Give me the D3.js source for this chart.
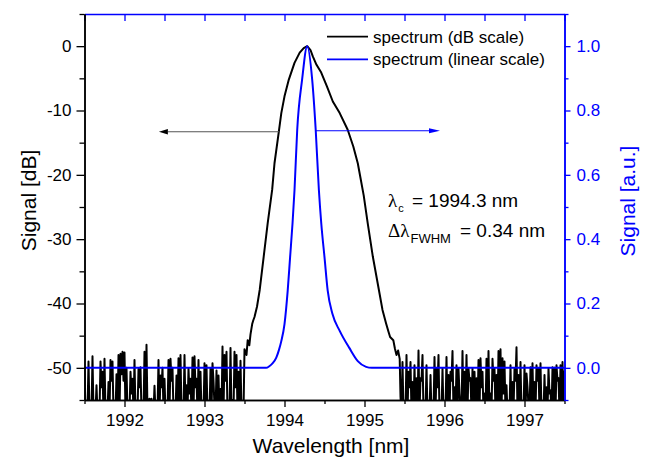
<!DOCTYPE html>
<html>
<head>
<meta charset="utf-8">
<script src="https://cdn.jsdelivr.net/npm/d3@7"></script>
<style>
  body { margin: 0; background: #fff; }
  svg { display: block; font-family: "Liberation Sans", Arial, sans-serif; }
  .tick text { font-size: 17px; }
</style>
</head>
<body>
<svg id="chart" width="646" height="457"></svg>
<script>
// noise floor samples (dB), left side starts at 1991.5 nm, right side at 1995.45 nm, 0.025 nm apart
var noiseStep = 0.025;
var noiseLeftStart = 1991.5;
var noiseLeftPeaks = [
  -50, -56, -49, -56, -48.2, -56, -52.7, -56, -49, -50.6,
  -48.6, -56, -52.2, -48.8, -49, -56, -51, -48, -47.8, -47.5,
  -47.6, -50, -56, -50.6, -51.7, -48.8, -56, -50.2, -49.9, -56,
  -47.5, -46.4, -55, -55.2, -56, -52.8, -56, -48.8, -51.2, -50,
  -51.7, -56, -48.8, -48.6, -50, -56, -51.2, -48.5, -48, -56,
  -48, -52.7, -50.1, -51.7, -48.4, -48.2, -51.7, -48.8, -50.6, -56,
  -49.3, -49.6, -56, -50.1, -49.3, -56, -50.4, -51.2, -53.3, -46.7,
  -48, -47.5, -56, -46.9, -55, -47.5, -48, -50.6, -48.9, -56,
  -47.1
];
var noiseLeftValleys = [
  -57, -57, -57, -57, -57, -57, -57, -57, -53, -57,
  -57, -57, -57, -52, -57, -57, -57, -57, -51, -52,
  -57, -57, -57, -54, -57, -57, -57, -53, -57, -57,
  -57, -57, -54.8, -54.8, -57, -57, -57, -57, -53, -57,
  -57, -57, -57, -52, -57, -57, -57, -57, -57, -57,
  -57, -57, -54, -57, -57, -53, -57, -57, -57, -57,
  -57, -57, -57, -57, -52, -57, -57, -57, -57, -57,
  -52, -57, -57, -57, -57, -53, -57, -57, -57, -57
];
var noiseRightStart = 1995.45;
var noiseRightPeaks = [
  -54.5, -49.1, -56, -48, -50.6, -49.1, -52.2, -49.6, -51.6, -47.3,
  -51.6, -48, -56, -49.6, -56, -51.1, -56, -48.3, -50.1, -48,
  -56, -50.1, -56, -48.3, -51.1, -50.6, -47.4, -53, -49.6, -50.1,
  -56, -47.4, -50.6, -48, -50.1, -51.6, -50.1, -50.6, -51.6, -48.8,
  -48.5, -50.6, -54, -48.6, -47.4, -54, -48.6, -50.1, -51.1, -47.4,
  -47.1, -48.5, -49, -52.7, -56, -49.6, -52.2, -50.1, -46.8, -51.1,
  -49.1, -56, -49.6, -50.9, -56, -49.9, -49.3, -52.2, -49.6, -50.1,
  -49.3, -56, -51.1, -53, -50.1, -53.5, -49.9, -50, -49.6, -51.6,
  -49.6, -49.1, -50.4
];
var noiseRightValleys = [
  -57, -57, -57, -57, -53, -57, -57, -57, -57, -57,
  -52, -57, -57, -57, -57, -57, -57, -57, -53, -57,
  -57, -57, -57, -57, -57, -52, -57, -57, -57, -54,
  -57, -57, -57, -57, -52, -57, -57, -57, -57, -57,
  -53, -57, -57, -57, -57, -57, -52, -57, -57, -57,
  -57, -54, -57, -57, -57, -57, -57, -52, -57, -57,
  -57, -57, -57, -53, -57, -57, -57, -57, -52, -57,
  -57, -57, -57, -57, -54, -57, -57, -57, -52, -57,
  -57, -57
];

// emission peak, dB scale
var peakWl = [1993.525, 1993.54, 1993.56, 1993.575, 1993.596, 1993.61, 1993.625, 1993.656, 1993.69, 1993.74,
              1993.79, 1993.846, 1993.875, 1993.93, 1993.96, 1994.0, 1994.054, 1994.125, 1994.19, 1994.24,
              1994.284, 1994.325, 1994.354, 1994.4, 1994.459, 1994.529, 1994.604, 1994.69, 1994.79, 1994.86,
              1994.916, 1994.95, 1994.99, 1995.04, 1995.104, 1995.18, 1995.225, 1995.27, 1995.3, 1995.32,
              1995.36, 1995.38, 1995.40, 1995.42, 1995.44];
var peakDb = [-48, -45.7, -46.5, -44.8, -43.2, -42.6, -42.1, -40.5, -37.9, -32.7,
              -27.5, -22.3, -18.2, -13.2, -10.4, -7.8, -5.2, -2.6, -1.0, -0.3,
              0, -0.6, -1.6, -2.9, -4.1, -6.2, -8.6, -10.4, -13.0, -15.6,
              -18.2, -20.5, -23.2, -27.5, -32.7, -37.9, -41, -43.1, -44.4, -45.2,
              -45.7, -47, -48, -47.3, -48.6];

// linear scale spectrum (a.u.)
var linWl = [1991.5, 1993.77, 1993.81, 1993.85, 1993.896, 1993.93, 1993.96, 1994.0, 1994.04, 1994.07,
             1994.10, 1994.125, 1994.159, 1994.22, 1994.284, 1994.346, 1994.39, 1994.43, 1994.46, 1994.5,
             1994.54, 1994.6, 1994.69, 1994.81, 1994.916, 1995.02, 1995.09, 1997.5];
var linVal = [0, 0, 0.005, 0.014, 0.031, 0.055, 0.083, 0.136, 0.24, 0.344,
              0.448, 0.552, 0.74, 0.896, 1.0, 0.896, 0.74, 0.552, 0.448, 0.344,
              0.24, 0.167, 0.115, 0.062, 0.021, 0.003, 0, 0];

var xMajor = [1992, 1993, 1994, 1995, 1996, 1997];
var xMinor = [1991.5, 1992.5, 1993.5, 1994.5, 1995.5, 1996.5, 1997.5];
var yLeftMajor = [-50, -40, -30, -20, -10, 0];
var yLeftMinor = [-55, -45, -35, -25, -15, -5, 5];
var yRightMajor = [0, 0.2, 0.4, 0.6, 0.8, 1.0];
var yRightMinor = [-0.1, 0.1, 0.3, 0.5, 0.7, 0.9, 1.1];

var legendLabels = ['spectrum (dB scale)', 'spectrum (linear scale)'];
var centerWl = '1994.3';
var fwhm = '0.34';

// arrows pointing at the axis each curve belongs to
var arrowDb = {from: 1993.935, to: 1992.43, level: -13.3};
var arrowLin = {from: 1994.394, to: 1995.944, level: 0.737};

(function () {
  'use strict';
  var BLUE = '#0000ff';
  var svg = d3.select('#chart');
  var left = 84.5, right = 564.5, top = 14, bottom = 400;

  var x = d3.scaleLinear().domain([1991.5, 1997.5]).range([left, right]);
  var yL = d3.scaleLinear().domain([-55, 5]).range([bottom, top]);
  var yR = d3.scaleLinear().domain([-0.1, 1.1]).range([bottom, top]);

  svg.append('clipPath').attr('id', 'plotclip')
    .append('rect').attr('x', left).attr('y', top).attr('width', right - left).attr('height', bottom - top);

  // build the dB series: noise (peak / valley interleaved), emission peak, noise
  var dbSeries = [];
  noiseLeftPeaks.forEach(function (v, i) {
    dbSeries.push([noiseLeftStart + i * noiseStep, v]);
    if (i < noiseLeftValleys.length) dbSeries.push([noiseLeftStart + (i + 0.5) * noiseStep, noiseLeftValleys[i]]);
  });
  peakWl.forEach(function (w, i) { dbSeries.push([w, peakDb[i]]); });
  noiseRightPeaks.forEach(function (v, i) {
    dbSeries.push([noiseRightStart + i * noiseStep, v]);
    if (i < noiseRightValleys.length) dbSeries.push([noiseRightStart + (i + 0.5) * noiseStep, noiseRightValleys[i]]);
  });
  var linSeries = linWl.map(function (w, i) { return [w, linVal[i]]; });

  var plot = svg.append('g').attr('clip-path', 'url(#plotclip)');

  plot.append('path').datum(dbSeries)
    .attr('fill', 'none').attr('stroke', '#000').attr('stroke-width', 2).attr('stroke-linejoin', 'round')
    .attr('d', d3.line().x(function (d) { return x(d[0]); }).y(function (d) { return yL(d[1]); }));

  plot.append('path').datum(linSeries)
    .attr('fill', 'none').attr('stroke', BLUE).attr('stroke-width', 2)
    .attr('d', d3.line().curve(d3.curveMonotoneX).x(function (d) { return x(d[0]); }).y(function (d) { return yR(d[1]); }));

  // axes
  function styleAxis(g, color) {
    g.selectAll('path.domain').attr('stroke', color).attr('stroke-width', 1.5);
    g.selectAll('.tick line').attr('stroke', color).attr('stroke-width', 1.3);
    g.selectAll('.tick text').attr('fill', color);
  }
  var plain = function (d) { return String(d); };

  var gb = svg.append('g').attr('transform', 'translate(0,' + bottom + ')')
    .call(d3.axisBottom(x).tickValues(xMajor).tickSize(7).tickSizeOuter(0).tickPadding(7).tickFormat(plain));
  styleAxis(gb, '#000');
  var gbm = svg.append('g').attr('transform', 'translate(0,' + bottom + ')')
    .call(d3.axisBottom(x).tickValues(xMinor).tickSize(4).tickSizeOuter(0).tickFormat(''));
  styleAxis(gbm, '#000');

  var gt = svg.append('g').attr('transform', 'translate(0,' + top + ')')
    .call(d3.axisBottom(x).tickValues(xMajor.concat(xMinor)).tickSize(7).tickSizeOuter(0).tickFormat(''));
  styleAxis(gt, BLUE);

  var gl = svg.append('g').attr('transform', 'translate(' + left + ',0)')
    .call(d3.axisLeft(yL).tickValues(yLeftMajor).tickSize(8).tickSizeOuter(0).tickPadding(5).tickFormat(plain));
  styleAxis(gl, '#000');
  var glm = svg.append('g').attr('transform', 'translate(' + left + ',0)')
    .call(d3.axisLeft(yL).tickValues(yLeftMinor).tickSize(5).tickSizeOuter(0).tickFormat(''));
  styleAxis(glm, '#000');

  var gr = svg.append('g').attr('transform', 'translate(' + right + ',0)')
    .call(d3.axisRight(yR).tickValues(yRightMajor).tickSize(6).tickSizeOuter(0).tickPadding(6)
      .tickFormat(function (d) { return d.toFixed(1); }));
  styleAxis(gr, BLUE);
  var grm = svg.append('g').attr('transform', 'translate(' + right + ',0)')
    .call(d3.axisRight(yR).tickValues(yRightMinor).tickSize(4).tickSizeOuter(0).tickFormat(''));
  styleAxis(grm, BLUE);

  svg.selectAll('.tick text').style('font-family', '"Liberation Sans", Arial, sans-serif').style('font-size', '17px');

  // axis titles
  svg.append('text').attr('transform', 'translate(36,200.5) rotate(-90)')
    .attr('text-anchor', 'middle').attr('font-size', 21).text('Signal [dB]');
  svg.append('text').attr('transform', 'translate(635,201) rotate(-90)')
    .attr('text-anchor', 'middle').attr('font-size', 21).attr('fill', BLUE).text('Signal [a.u.]');
  svg.append('text').attr('x', 331).attr('y', 453.3)
    .attr('text-anchor', 'middle').attr('font-size', 21).text('Wavelength [nm]');

  // legend
  var legend = svg.append('g');
  [{c: '#000', y: 36.7}, {c: BLUE, y: 59.3}].forEach(function (d, i) {
    legend.append('line').attr('x1', 327).attr('x2', 368).attr('y1', d.y).attr('y2', d.y)
      .attr('stroke', d.c).attr('stroke-width', 1.8);
    legend.append('text').attr('x', 373).attr('y', d.y + 6).attr('font-size', 17).text(legendLabels[i]);
  });

  // arrows
  function arrow(x1, x2, y, lineColor, headColor, len, half) {
    var dir = x2 < x1 ? 1 : -1;
    svg.append('line').attr('x1', x1).attr('x2', x2 + dir * len).attr('y1', y).attr('y2', y)
      .attr('stroke', lineColor).attr('stroke-width', 1.2);
    svg.append('path')
      .attr('d', 'M' + x2 + ',' + y + 'L' + (x2 + dir * len) + ',' + (y - half) + 'L' + (x2 + dir * len) + ',' + (y + half) + 'Z')
      .attr('fill', headColor);
  }
  arrow(x(arrowDb.from), x(arrowDb.to), yL(arrowDb.level), '#555', '#000', 9, 2.7);
  arrow(x(arrowLin.from), x(arrowLin.to), yR(arrowLin.level), BLUE, BLUE, 11, 2.4);

  // annotations
  var serif = '"Liberation Serif", "Times New Roman", serif';
  var t1 = svg.append('text').attr('x', 388).attr('y', 206.7).attr('font-size', 19);
  t1.append('tspan').style('font-family', serif).text('\u03bb');
  t1.append('tspan').attr('font-size', 11).attr('dy', 5).attr('dx', 1).text('c');
  svg.append('text').attr('x', 412).attr('y', 206.7).attr('font-size', 19).text('= ' + centerWl + ' nm');

  var t2 = svg.append('text').attr('x', 388).attr('y', 237.3).attr('font-size', 19);
  t2.append('tspan').style('font-family', serif).text('\u0394\u03bb');
  t2.append('tspan').attr('font-size', 13).attr('dy', 6).attr('dx', 1).text('FWHM');
  svg.append('text').attr('x', 460).attr('y', 237.3).attr('font-size', 19).text('= ' + fwhm + ' nm');
})();
</script>
</body>
</html>
